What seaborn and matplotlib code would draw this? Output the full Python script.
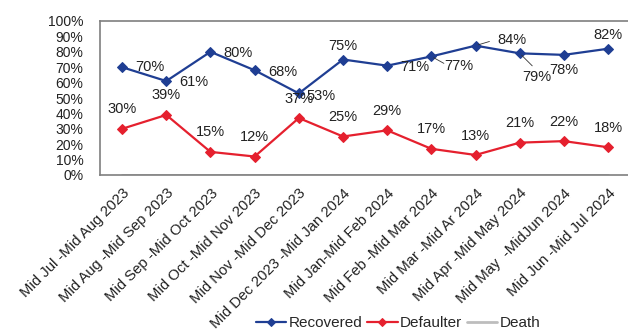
import matplotlib
matplotlib.use("Agg")
import matplotlib.pyplot as plt
import seaborn as sns
import pandas as pd
import numpy as np

periods = ["Mid Jul -Mid Aug 2023", "Mid Aug -Mid Sep 2023", "Mid Sep -Mid Oct 2023",
           "Mid Oct -Mid Nov 2023", "Mid Nov -Mid Dec 2023", "Mid Dec 2023 -Mid Jan 2024",
           "Mid Jan-Mid Feb 2024", "Mid Feb -Mid Mar 2024", "Mid Mar -Mid Ar 2024",
           "Mid Apr -Mid May 2024", "Mid May  -MidJun 2024", "Mid Jun -Mid Jul 2024"]
recovered = [70, 61, 80, 68, 53, 75, 71, 77, 84, 79, 78, 82]
defaulter = [30, 39, 15, 12, 37, 25, 29, 17, 13, 21, 22, 18]
death = [0, 0, 0, 0, 0, 0, 0, 0, 0, 0, 0, 0]
series_names = ["Recovered", "Defaulter", "Death"]
y_ticks = [0, 10, 20, 30, 40, 50, 60, 70, 80, 90, 100]

sns.set_theme(style="white")
plt.rcParams['font.family'] = ['Liberation Sans', 'DejaVu Sans']

idx = np.arange(len(periods))
df = pd.DataFrame({
    "x": np.concatenate([idx, idx, idx]),
    "value": recovered + defaulter + death,
    "series": [series_names[0]] * 12 + [series_names[1]] * 12 + [series_names[2]] * 12,
})

palette = {"Recovered": "#1F3E93", "Defaulter": "#E5202E", "Death": "#BDBDBD"}
markers = {"Recovered": "D", "Defaulter": "D", "Death": ""}

fig = plt.figure(figsize=(6.28, 3.31), dpi=100)
ax = fig.add_axes([100 / 628, 1 - 175 / 331, 528 / 628, 154 / 331])

for name in ["Death", "Recovered", "Defaulter"]:
    sub = df[df.series == name]
    sns.lineplot(data=sub, x="x", y="value", ax=ax, color=palette[name],
                 marker=markers[name] if markers[name] else None,
                 markersize=5, markeredgecolor=palette[name], linewidth=1.6 if name != "Death" else 2,
                 label=name, legend=False)

ax.set_xlim(-0.5, 11.45)
ax.set_ylim(0, 100)
ax.set_yticks(y_ticks)
ax.set_yticklabels([f"{t}%" for t in y_ticks], fontsize=10, color="#222222")
ax.set_xticks(idx)
ax.set_xticklabels(periods, rotation=45, ha="right", rotation_mode="anchor", fontsize=10.7, color="#222222")
ax.tick_params(axis="both", length=0)
ax.tick_params(axis="x", pad=8)
ax.tick_params(axis="y", pad=12)
ax.set_xlabel("")
ax.set_ylabel("")
for s in ["left", "top", "bottom"]:
    ax.spines[s].set_color("#7f7f7f")
    ax.spines[s].set_linewidth(1.2)
ax.spines["right"].set_visible(False)

# label offsets in points (dx, dy)
rec_off = [(20, 0), (20, -1), (20, -1), (20, -1), (16, -2), (0, 10), (20, -1), (20, -7), (26, 4), (12, -17), (0, -11), (0, 10)]
for i, v in enumerate(recovered):
    dx, dy = rec_off[i]
    ax.annotate(f"{v}%", (i, v), xytext=(dx, dy), textcoords="offset points",
                ha="center", va="center", fontsize=10.5, color="#222222")
# leader lines
ax.annotate("", (7, 77), xytext=(9, -5), textcoords="offset points",
            arrowprops=dict(arrowstyle="-", color="#333333", lw=0.6, shrinkA=0, shrinkB=2))
ax.annotate("", (8, 84), xytext=(10, 3), textcoords="offset points",
            arrowprops=dict(arrowstyle="-", color="#333333", lw=0.6, shrinkA=0, shrinkB=2))
ax.annotate("", (9, 79), xytext=(9, -9), textcoords="offset points",
            arrowprops=dict(arrowstyle="-", color="#333333", lw=0.6, shrinkA=0, shrinkB=2))
for i, v in enumerate(defaulter):
    ax.annotate(f"{v}%", (i, v), xytext=(0, 14), textcoords="offset points",
                ha="center", va="center", fontsize=10.5, color="#222222")

handles, labels = ax.get_legend_handles_labels()
order = [labels.index(n) for n in series_names]
leg = fig.legend([handles[k] for k in order], [labels[k] for k in order],
           loc="center", bbox_to_anchor=(398 / 628, 1 - 323 / 331), ncol=3, frameon=False,
           fontsize=11, handlelength=2.0, handletextpad=0.15, columnspacing=0.3, borderpad=0,
           markerscale=0.8)

fig.savefig("out.png", dpi=100)
